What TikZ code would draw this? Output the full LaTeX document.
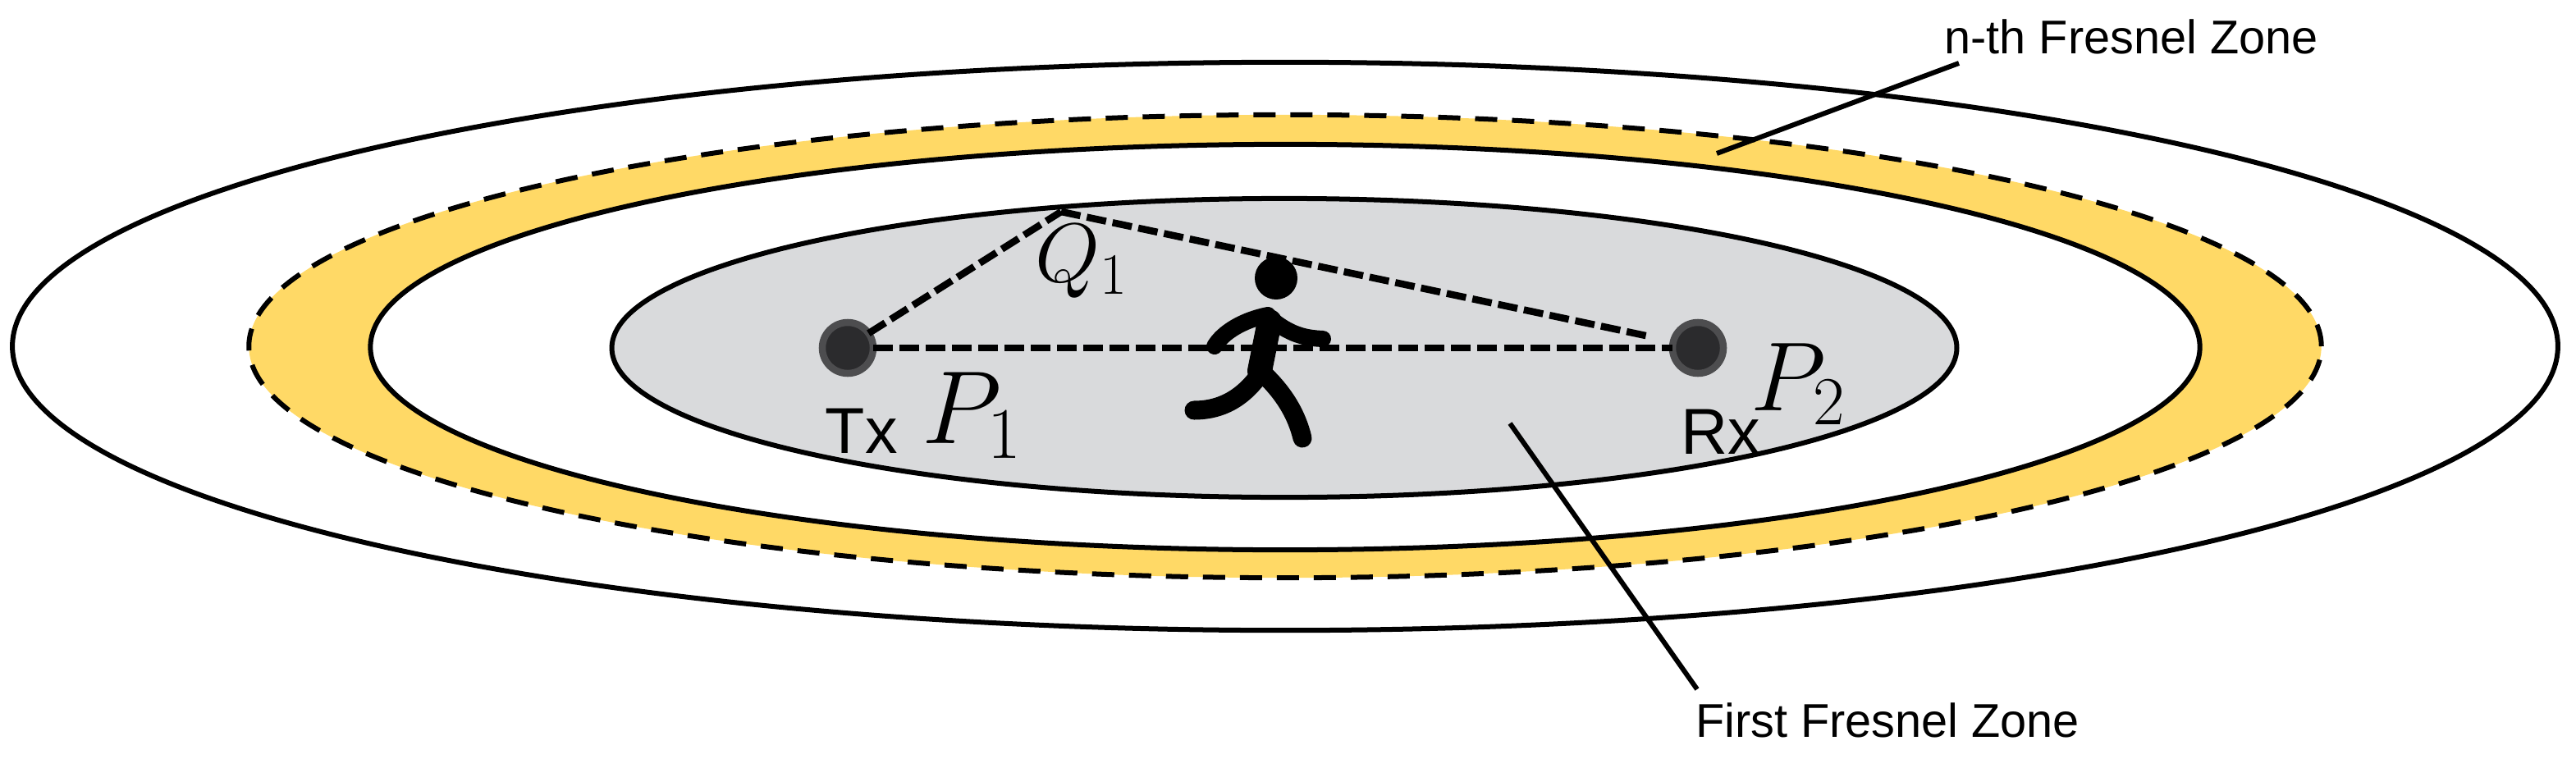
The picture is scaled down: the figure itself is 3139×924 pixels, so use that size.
\RequirePackage{fix-cm}
\documentclass[tikz,border=0pt]{standalone}
\usepackage{fontspec}
\setmainfont{Liberation Sans}
\usetikzlibrary{shapes.geometric}
\definecolor{zoneyellow}{HTML}{FFD966}
\definecolor{zonegray}{HTML}{D9DADC}
\definecolor{dotring}{HTML}{4D4D4F}
\definecolor{dotcore}{HTML}{2B2B2D}
\tikzset{
  zone/.style={ellipse,draw=black,line width=0.06cm,inner sep=0pt,outer sep=0pt},
  ray/.style={draw=black,line width=0.085cm,dash pattern=on 0.24cm off 0.08cm},
  leader/.style={draw=black,line width=0.06cm},
  antenna/.style={circle,fill=dotcore,draw=dotring,line width=0.085cm,minimum size=0.62cm,inner sep=0pt,outer sep=0pt},
  zonelabel/.style={font=\fontsize{16.4}{20}\selectfont,inner sep=0pt,anchor=center},
  devlabel/.style={font=\fontsize{22.5}{26}\selectfont,inner sep=0pt,anchor=base west},
  mathlabel/.style={font=\fontsize{36}{40}\selectfont,inner sep=0pt,anchor=base west},
  limb/.style={draw=black,line cap=round,line join=round},
}
\begin{document}
\begin{tikzpicture}[x=0.01cm,y=-0.01cm]
\useasboundingbox (0,0) rectangle (3139,924);
% zones
\node[zone,minimum width=31cm,minimum height=6.92cm] (outer) at (1566,422) {};
\node[ellipse,fill=zoneyellow,inner sep=0pt,minimum width=25.24cm,minimum height=5.64cm] (nthfill) at (1566,422) {};
\node[ellipse,draw=black,line width=0.06cm,dash pattern=on 0.27cm off 0.18cm,inner sep=0pt,minimum width=25.24cm,minimum height=5.64cm] (nth) at (1566,422) {};
\node[zone,fill=white,minimum width=22.28cm,minimum height=4.94cm] (mid) at (1566,423) {};
\node[zone,fill=zonegray,minimum width=16.38cm,minimum height=3.64cm] (first) at (1565,424) {};
% antennas and rays
\coordinate (Q) at (1293,258);
\coordinate (rayend) at (2010,410);
\node[antenna] (tx) at (1033,424) {};
\node[antenna] (rx) at (2069,424) {};
\draw[ray] (tx.east) -- (rx.west);
\draw[ray] (tx.35) -- (Q);
\draw[ray] (Q) -- (rayend);
% runner
\fill[black] (1555,339) circle[radius=26];
\draw[limb,line width=0.3cm] (1547,392) -- (1535,452);
\draw[limb,line width=0.2cm] (1545,384) .. controls (1515,390) and (1490,405) .. (1480,422);
\draw[limb,line width=0.2cm] (1548,388) .. controls (1572,408) and (1590,412) .. (1612,413);
\draw[limb,line width=0.23cm] (1536,455) .. controls (1510,492) and (1480,500) .. (1455,500);
\draw[limb,line width=0.23cm] (1540,456) .. controls (1565,480) and (1580,505) .. (1587,534);
% labels
\node[devlabel] (txl) at (1005,552) {Tx};
\node[devlabel] (rxl) at (2048,553) {Rx};
\node[mathlabel] (p1) at (1123,540) {$P_1$};
\node[mathlabel,font=\fontsize{34}{40}\selectfont] (p2) at (2133,500) {$P_2$};
\node[mathlabel,font=\fontsize{29}{34}\selectfont] (q1) at (1261,343) {$Q_1$};
\node[zonelabel] (nthl) at (2597,45) {n-th Fresnel Zone};
\node[zonelabel] (firstl) at (2300,878) {First Fresnel Zone};
% leaders
\coordinate (nthend) at (2092,187);
\coordinate (nthtop) at (2387,77);
\coordinate (firstend) at (1840,516);
\coordinate (firstbot) at (2068,840);
\draw[leader] (nthtop) -- (nthend);
\draw[leader] (firstend) -- (firstbot);
\end{tikzpicture}
\end{document}
